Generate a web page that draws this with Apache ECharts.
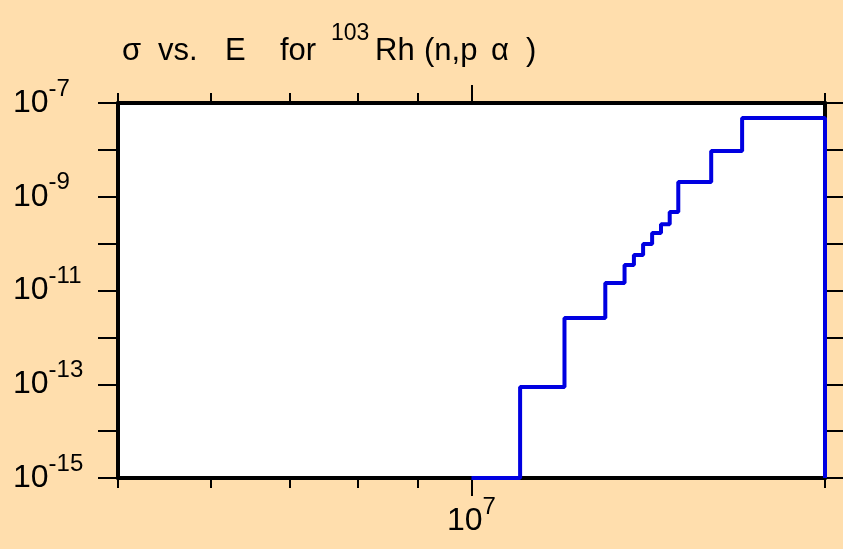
<!DOCTYPE html>
<html>
<head>
<meta charset="utf-8">
<style>
  html, body { margin: 0; padding: 0; background: #FFDEAD; }
  #chart { width: 843px; height: 549px; }
</style>
<script src="https://cdn.jsdelivr.net/npm/echarts@6/dist/echarts.min.js"></script>
</head>
<body>
<div id="chart"></div>
<script>
// step edges (eV) and cross sections (b)
const energies = [1e7, 1.1e7, 1.2e7, 1.3e7, 1.35e7, 1.375e7, 1.4e7, 1.425e7, 1.45e7, 1.475e7, 1.5e7, 1.6e7, 1.7e7, 2e7]
const sigmas = [1e-15, 8.7e-14, 2.6e-12, 1.45e-11, 3.5e-11, 5.7e-11, 9.8e-11, 1.69e-10, 2.6e-10, 4.7e-10, 2.06e-9, 9.46e-9, 4.8e-8, 1e-15]

const xMinorTicks = [5e6, 6e6, 7e6, 8e6, 9e6, 1e7, 2e7]
const xMajorTicks = [1e7]
const yTicks = [1e-15, 1e-14, 1e-13, 1e-12, 1e-11, 1e-10, 1e-9, 1e-8, 1e-7]
const yLabelTicks = [1e-15, 1e-13, 1e-11, 1e-9, 1e-7]

// title pieces with their slot widths so words land where the original put them
const titleParts = [['t', 'σ', 36], ['t', 'vs.', 67], ['t', 'E', 55], ['t', 'for', 51], ['u', '103', 44], ['t', 'Rh', 49], ['t', '(n,p', 67], ['t', 'α', 35], ['t', ')', 20]]

const FONT = '"Liberation Sans", Arial, Helvetica, sans-serif'
const INK = '#000'

const rich = {}
let titleText = ''
titleParts.forEach((p, i) => {
  const key = 'p' + i
  const sup = p[0] === 'u'
  rich[key] = {
    fontFamily: FONT, color: INK, fontWeight: 'normal', width: p[2],
    fontSize: sup ? 23 : 31,
    lineHeight: sup ? 23 : 58,
    verticalAlign: sup ? 'top' : 'middle'
  }
  titleText += '{' + key + '|' + p[1] + '}'
})

const powRich = {
  b: { fontFamily: FONT, color: INK, fontSize: 32, lineHeight: 52 },
  s: { fontFamily: FONT, color: INK, fontSize: 24, lineHeight: 24, verticalAlign: 'top' }
}
const powLabel = v => '{b|10}{s|' + Math.round(Math.log10(v)) + '}'

const frame = { show: true, lineStyle: { color: INK, width: 4 } }
const noLine = { show: false }

function xAxisDef(position, ticks, len, withLabel) {
  return {
    type: 'log', position: position, min: 5e6, max: 2e7,
    axisLine: withLabel !== undefined ? frame : noLine,
    splitLine: { show: false },
    minorTick: { show: false },
    axisTick: { show: true, inside: false, length: len, customValues: ticks, lineStyle: { color: INK, width: 2 } },
    axisLabel: withLabel
      ? { show: true, customValues: xMajorTicks, formatter: powLabel, rich: powRich, margin: 17 }
      : { show: false }
  }
}

function yAxisDef(position, withLabel) {
  return {
    type: 'log', position: position, min: 1e-15, max: 1e-7,
    axisLine: frame,
    splitLine: { show: false },
    minorTick: { show: false },
    axisTick: { show: true, inside: false, length: 20, customValues: yTicks, lineStyle: { color: INK, width: 2 } },
    axisLabel: withLabel
      ? { show: true, customValues: yLabelTicks, formatter: powLabel, rich: powRich, align: 'left', margin: 105 }
      : { show: false }
  }
}

const chart = echarts.init(document.getElementById('chart'))

chart.setOption({
  backgroundColor: '#FFDEAD',
  animation: false,
  title: {
    text: titleText,
    left: 122, top: 22,
    padding: 0,
    textStyle: { fontWeight: 'normal', fontSize: 31, fontFamily: FONT, rich: rich }
  },
  grid: {
    left: 118, right: 18, top: 103, bottom: 71,
    show: true, backgroundColor: '#fff', borderWidth: 0
  },
  xAxis: [
    xAxisDef('bottom', xMinorTicks, 10, true),
    xAxisDef('bottom', xMajorTicks, 18),
    xAxisDef('top', xMinorTicks, 10, false),
    xAxisDef('top', xMajorTicks, 18)
  ],
  yAxis: [
    yAxisDef('left', true),
    yAxisDef('right', false)
  ],
  series: [
    {
      type: 'line',
      step: 'end',
      xAxisIndex: 0,
      yAxisIndex: 0,
      showSymbol: false,
      clip: true,
      lineStyle: { color: '#0000E1', width: 4 },
      data: energies.map((e, i) => [e, sigmas[i]])
    }
  ]
})
</script>
</body>
</html>
